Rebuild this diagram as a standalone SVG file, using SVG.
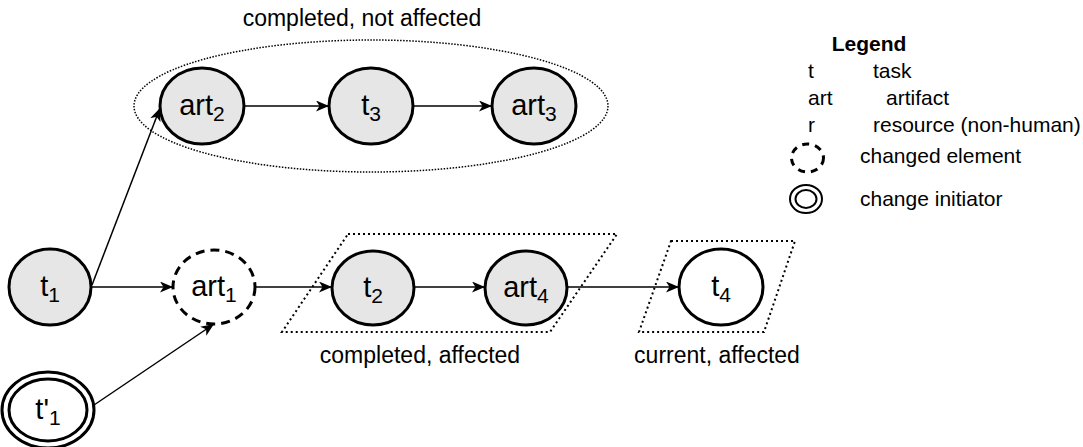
<svg xmlns="http://www.w3.org/2000/svg" width="1083" height="447" viewBox="0 0 1083 447">
<style>
  text { font-family: "Liberation Sans", Arial, sans-serif; fill: #000; }
  .node { fill: #e6e6e6; stroke: #000; stroke-width: 3; }
  .white { fill: #fff; stroke: #000; stroke-width: 3; }
  .dashed { fill: #fff; stroke: #000; stroke-width: 3; stroke-dasharray: 9 6; }
  .lbl { font-size: 29px; text-anchor: middle; }
  .sub { font-size: 21px; }
  .edge { fill: none; stroke: #000; stroke-width: 1.5; marker-end: url(#arr); }
  .group { fill: none; stroke: #000; stroke-width: 1.5; stroke-dasharray: 1.5 1.5; }
  .grp2 { fill: none; stroke: #000; stroke-width: 2; stroke-dasharray: 2 3; }
  .cap { font-size: 23px; text-anchor: middle; }
  .leg { font-size: 21px; }
</style>
<defs>
  <marker id="arr" markerWidth="14" markerHeight="11" refX="13" refY="5.5" orient="auto" markerUnits="userSpaceOnUse">
    <path d="M0,0 L13,5.5 L0,11 L3.5,5.5 Z" fill="#000"/>
  </marker>
</defs>

<g id="groups">
  <ellipse cx="371" cy="106" rx="237" ry="66" class="group"/>
  <polygon points="348,234 617,234 550,332 282,332" class="grp2"/>
  <polygon points="671,241 795,241 764,332 639,332" class="grp2"/>
  <text class="cap" x="362" y="26">completed, not affected</text>
  <text class="cap" x="420" y="363">completed, affected</text>
  <text class="cap" x="717" y="363">current, affected</text>
</g>

<g id="connectors">
  <line class="edge" x1="92" y1="285" x2="160" y2="108"/>
  <line class="edge" x1="92" y1="287" x2="173" y2="287"/>
  <line class="edge" x1="94" y1="405" x2="214" y2="324"/>
  <line class="edge" x1="256" y1="287" x2="332" y2="287"/>
  <line class="edge" x1="244" y1="106" x2="329" y2="106"/>
  <line class="edge" x1="413" y1="106" x2="492" y2="106"/>
  <line class="edge" x1="415" y1="287" x2="485" y2="287"/>
  <line class="edge" x1="567" y1="287" x2="679" y2="287"/>
</g>

<g id="t1">
  <ellipse cx="50" cy="287" rx="41" ry="38" class="node"/>
  <text class="lbl" x="50" y="296">t<tspan class="sub" dy="6">1</tspan></text>
</g>
<g id="t1prime">
  <ellipse cx="48" cy="410" rx="46" ry="38" class="white"/>
  <ellipse cx="48" cy="410" rx="39" ry="31" class="white"/>
  <text class="lbl" x="48" y="419">t'<tspan class="sub" dy="6">1</tspan></text>
</g>
<g id="art1">
  <ellipse cx="214" cy="287" rx="41" ry="37" class="dashed"/>
  <text class="lbl" x="214" y="296">art<tspan class="sub" dy="6">1</tspan></text>
</g>
<g id="art2">
  <ellipse cx="202" cy="106" rx="42" ry="38" class="node"/>
  <text class="lbl" x="202" y="115">art<tspan class="sub" dy="6">2</tspan></text>
</g>
<g id="t3">
  <ellipse cx="371" cy="106" rx="42" ry="38" class="node"/>
  <text class="lbl" x="371" y="115">t<tspan class="sub" dy="6">3</tspan></text>
</g>
<g id="art3">
  <ellipse cx="534" cy="106" rx="42" ry="38" class="node"/>
  <text class="lbl" x="534" y="115">art<tspan class="sub" dy="6">3</tspan></text>
</g>
<g id="t2">
  <ellipse cx="373" cy="288" rx="41" ry="37" class="node"/>
  <text class="lbl" x="373" y="297">t<tspan class="sub" dy="6">2</tspan></text>
</g>
<g id="art4">
  <ellipse cx="526" cy="288" rx="41" ry="37" class="node"/>
  <text class="lbl" x="526" y="297">art<tspan class="sub" dy="6">4</tspan></text>
</g>
<g id="t4">
  <ellipse cx="721" cy="287" rx="42" ry="38" class="white"/>
  <text class="lbl" x="721" y="296">t<tspan class="sub" dy="6">4</tspan></text>
</g>

<g id="legend">
  <text x="869" y="51" font-size="21" font-weight="bold" text-anchor="middle">Legend</text>
  <text class="leg" x="808" y="78">t</text>
  <text class="leg" x="873" y="78">task</text>
  <text class="leg" x="808" y="105">art</text>
  <text class="leg" x="886" y="105">artifact</text>
  <text class="leg" x="808" y="132">r</text>
  <text class="leg" x="873" y="132">resource (non-human)</text>
  <ellipse cx="807.5" cy="158" rx="16" ry="14" fill="none" stroke="#000" stroke-width="3" stroke-dasharray="7 6"/>
  <text class="leg" x="860" y="163">changed element</text>
  <ellipse cx="806" cy="199" rx="16" ry="14" fill="none" stroke="#000" stroke-width="2"/>
  <ellipse cx="806" cy="199" rx="10.5" ry="9" fill="none" stroke="#000" stroke-width="2"/>
  <text class="leg" x="860" y="206">change initiator</text>
</g>
</svg>
